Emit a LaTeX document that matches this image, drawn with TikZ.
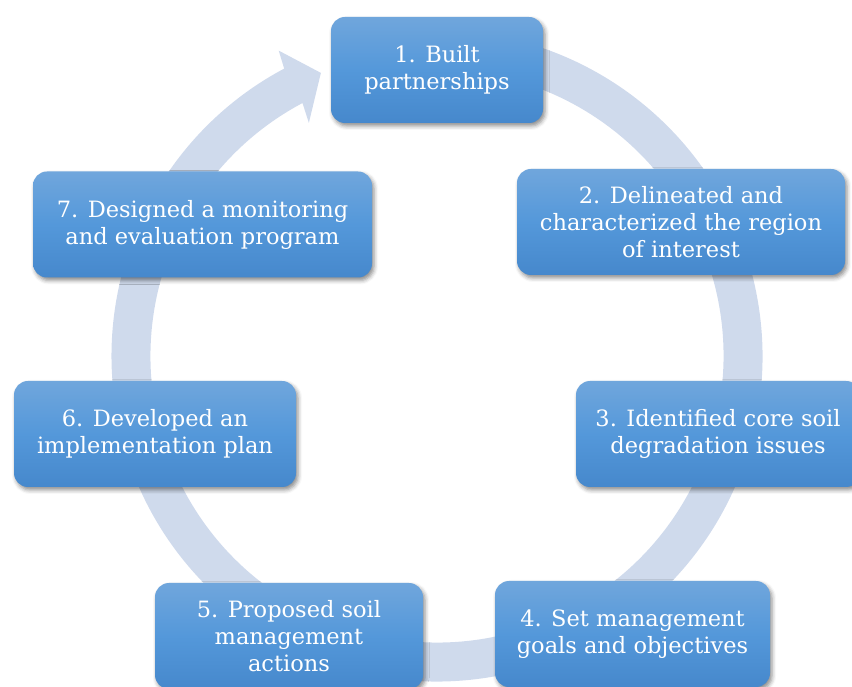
\documentclass[tikz,border=0pt]{standalone}
\usepackage{fontspec}
\setmainfont{DejaVu Serif}
\usepackage{tikz}
\usetikzlibrary{shapes, positioning, shadows.blur}
\definecolor{ringblue}{RGB}{207,218,236}
\definecolor{boxtop}{RGB}{112,166,220}
\definecolor{boxmid}{RGB}{84,152,218}
\definecolor{boxbot}{RGB}{70,136,204}
\tikzstyle{ring} = [fill=ringblue]
\tikzstyle{stepbox} = [rectangle, rounded corners=14pt, minimum height=106pt, align=center, text=white,
                       top color=boxtop, bottom color=boxbot, middle color=boxmid,
                       blur shadow={shadow xshift=2pt, shadow yshift=-3pt, shadow blur radius=4pt, shadow opacity=45},
                       font=\fontsize{22.5}{27}\selectfont]

\begin{document}
\begin{tikzpicture}[x=1pt, y=1pt]
	\useasboundingbox (0,0) rectangle (852,686);

	% the ring with its arrow head
	\begin{scope}[shift={(437,330)}]
		\fill[ring] (100:325.5) arc[start angle=100, end angle=-242, radius=325.5pt]
			-- (-242.6:344) -- (-247.7:306) -- (-241.2:266) -- (-242:286.5)
			arc[start angle=-242, end angle=100, radius=286.5pt] -- cycle;
	\end{scope}

	% the steps
	\node (Partners) [stepbox, minimum width=212pt] at (437,616) {1. Built\\partnerships};
	\node (Region) [stepbox, minimum width=328pt] at (681,464) {2. Delineated and\\characterized the region\\of interest};
	\node (Issues) [stepbox, minimum width=284pt] at (718,252) {3. Identified core soil\\degradation issues};
	\node (Goals) [stepbox, minimum width=275pt] at (632.5,52) {4. Set management\\goals and objectives};
	\node (Actions) [stepbox, minimum width=268pt] at (289,50) {5. Proposed soil\\management\\actions};
	\node (Plan) [stepbox, minimum width=282pt] at (155,252) {6. Developed an\\implementation plan};
	\node (Monitor) [stepbox, minimum width=339pt] at (202.5,461.5) {7. Designed a monitoring\\and evaluation program};
\end{tikzpicture}
\end{document}
